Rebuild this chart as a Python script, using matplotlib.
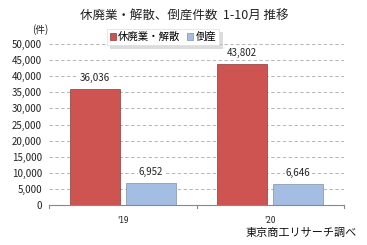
import matplotlib
matplotlib.use("Agg")
import matplotlib.pyplot as plt
import numpy as np

plt.rcParams['font.family'] = ['Noto Sans CJK JP', 'DejaVu Sans']

categories = ["'19", "'20"]
series_names = ["休廃業・解散", "倒産"]
haigyo = [36036, 43802]
tosan = [6952, 6646]
yticks = [0, 5000, 10000, 15000, 20000, 25000, 30000, 35000, 40000, 45000, 50000]
title = "休廃業・解散、倒産件数  1-10月 推移"
unit = "(件)"
source = "東京商工リサーチ調べ"

red = "#CD5451"
blue = "#A3BEE2"

fig = plt.figure(figsize=(3.67, 2.45), dpi=100)
ax = fig.add_axes([49/367, 40/245, (344-49)/367, (205-44)/245])

x = np.arange(len(categories))
w = 0.34
off = 0.19
b1 = ax.bar(x - off, haigyo, w, color=red, edgecolor="#8a3a38", linewidth=0.5, label=series_names[0], zorder=3)
b2 = ax.bar(x + off, tosan, w, color=blue, edgecolor="#7f8fa8", linewidth=0.5, label=series_names[1], zorder=3)

for rect, v in zip(list(b1) + list(b2), haigyo + tosan):
    ax.text(rect.get_x() + rect.get_width()/2, v + 1800, f"{v:,}", ha="center", va="bottom",
            fontsize=7, color="#222222", zorder=4,
            bbox=dict(facecolor="white", edgecolor="none", pad=0.5))

ax.set_xlim(-0.5, 1.5)
ax.set_ylim(0, 50000)
ax.set_yticks(yticks)
ax.set_yticklabels([f"{t:,}" for t in yticks], fontsize=7, color="#222222")
ax.set_xticks(x)
ax.set_xticklabels(categories, fontsize=6, color="#222222")
ax.tick_params(axis='x', length=0, pad=8)
ax.tick_params(axis='y', length=0, pad=5)
for t in [-0.5, 0.5, 1.5]:
    ax.plot([t, t], [0, -1000], color="#888888", lw=0.8, clip_on=False, zorder=4)
ax.grid(axis='y', linestyle=(0, (4, 3)), color="#aaaaaa", linewidth=0.6, zorder=0)
for s in ["top", "right", "left"]:
    ax.spines[s].set_visible(False)
ax.spines["bottom"].set_color("#888888")
ax.spines["bottom"].set_linewidth(0.8)
ax.spines["bottom"].set_zorder(5)

fig.text(184/367, 1 - 16/245, title, ha="center", va="center", fontsize=9, color="#222222")
fig.text(40/367, 1 - 30/245, unit, ha="center", va="center", fontsize=7, color="#222222")
fig.text(357/367, 1 - 233/245, source, ha="right", va="center", fontsize=8, color="#111111")

leg = ax.legend(loc="center", bbox_to_anchor=((163-49)/(344-49), (205-37)/(205-44)), ncol=2,
                fontsize=7.5, frameon=True, fancybox=False, shadow={'ox': 2, 'oy': -2, 'color': '#bbbbbb'},
                handlelength=0.6, handleheight=0.6, handletextpad=0.2, columnspacing=0.6, borderpad=0.3)
leg.get_frame().set_edgecolor("#dddddd")
leg.get_frame().set_linewidth(0.5)

fig.savefig("out.png", dpi=100)
